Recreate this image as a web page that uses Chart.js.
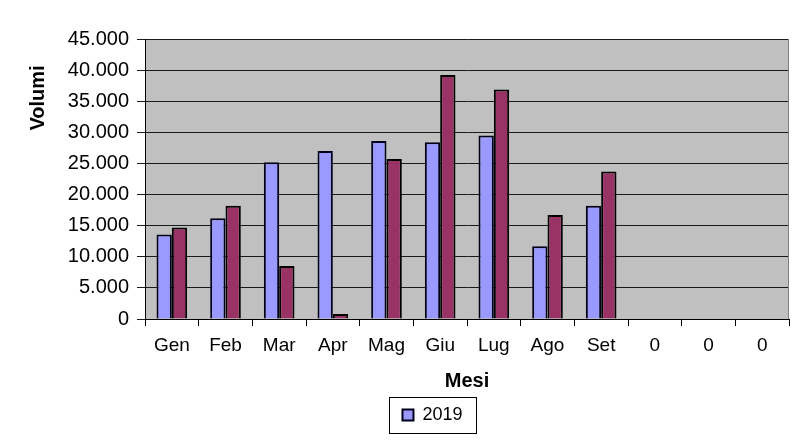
<!DOCTYPE html>
<html><head><meta charset="utf-8">
<script src="https://cdn.jsdelivr.net/npm/chart.js@4/dist/chart.umd.min.js"></script>
<style>html,body{margin:0;padding:0;background:#fff}#wrap{width:800px;height:447px}</style>
</head><body><div id="wrap"><canvas id="c" width="800" height="447"></canvas></div>
<script>
const categories = ['Gen','Feb','Mar','Apr','Mag','Giu','Lug','Ago','Set','0','0','0'];
const series2019 = [13600,16200,25200,27000,28600,28400,29500,11700,18200,null,null,null];
const seriesB = [14700,18200,8500,800,25700,39200,36900,16700,23700,null,null,null];
const yMin = 0, yMax = 45000, yStep = 5000;
const xTitle = 'Mesi', yTitle = 'Volumi';

const FONT = "'Liberation Sans', Arial, sans-serif";
const fmt = v => String(v).replace(/\B(?=(\d{3})+(?!\d))/g, '.');

const excelPlugin = {
  id: 'excel',
  beforeDraw(chart) {
    const {ctx, chartArea: a} = chart;
    ctx.save();
    ctx.fillStyle = '#c0c0c0';
    ctx.fillRect(a.left, a.top, a.right - a.left, a.bottom - a.top);
    ctx.restore();
  },
  afterLayout(chart) {
    const lg = chart.legend;
    lg.left += 38; lg.right += 38;
  },
  afterDraw(chart) {
    const {ctx, chartArea: a} = chart;
    ctx.save();
    ctx.strokeStyle = '#808080';
    ctx.lineWidth = 1;
    ctx.beginPath(); ctx.moveTo(a.right - 0.5, a.top); ctx.lineTo(a.right - 0.5, a.bottom); ctx.stroke();
    const lg = chart.legend;
    const lo = lg.options.labels;
    ctx.font = lo.font.size + 'px ' + FONT;
    const tw = ctx.measureText('2019').width;
    const w = lo.boxWidth + lo.font.size / 2 + tw;
    const cx = (lg.left + lg.right) / 2;
    const cy = lg.top + lo.padding + lo.font.size / 2;
    ctx.strokeStyle = '#000';
    ctx.strokeRect(Math.round(cx - w / 2 - 13) + 0.5, Math.round(cy - 18) + 0.5, Math.round(w + 27), 36);
    ctx.fillStyle = '#000';
    ctx.font = 'bold 20px ' + FONT;
    ctx.translate(38, a.top + 59);
    ctx.rotate(-Math.PI / 2);
    ctx.textAlign = 'center';
    ctx.textBaseline = 'middle';
    ctx.fillText(yTitle, 0, 0);
    ctx.restore();
  }
};

new Chart(document.getElementById('c'), {
  type: 'bar',
  data: {
    labels: categories,
    datasets: [
      {label: '2019', data: series2019, backgroundColor: '#9999ff', borderColor: '#000018', borderWidth: 2, barPercentage: 1, categoryPercentage: 0.571},
      {label: '2020', data: seriesB, backgroundColor: '#993366', borderColor: '#000000', borderWidth: 2, barPercentage: 1, categoryPercentage: 0.571}
    ]
  },
  options: {
    responsive: false,
    animation: false,
    layout: {padding: {top: 39, right: 11, left: 0, bottom: 13}},
    plugins: {
      tooltip: {enabled: false},
      legend: {
        position: 'bottom',
        labels: {
          filter: it => it.datasetIndex === 0,
          boxWidth: 11, boxHeight: 11, padding: 13,
          color: '#000', font: {family: FONT, size: 18}
        }
      }
    },
    scales: {
      x: {
        grid: {display: true, drawOnChartArea: false, drawTicks: true, tickLength: 7, color: '#000'},
        border: {display: true, color: '#000', width: 1},
        ticks: {color: '#000', font: {family: FONT, size: 19}, padding: 8, maxRotation: 0, autoSkip: false},
        title: {display: true, text: xTitle, color: '#000', font: {family: FONT, size: 20, weight: 'bold'}, padding: {top: 0, bottom: 0}},
        afterFit: s => { s.height = 74; }
      },
      y: {
        min: yMin, max: yMax,
        grid: {color: '#1a1a1a', lineWidth: 1, tickLength: 8, drawTicks: true},
        border: {display: true, color: '#000', width: 1},
        ticks: {stepSize: yStep, color: '#000', font: {family: FONT, size: 20}, padding: 8, callback: v => fmt(v)},
        afterFit: s => { s.width = 145; }
      }
    }
  },
  plugins: [excelPlugin]
});
</script></body></html>
